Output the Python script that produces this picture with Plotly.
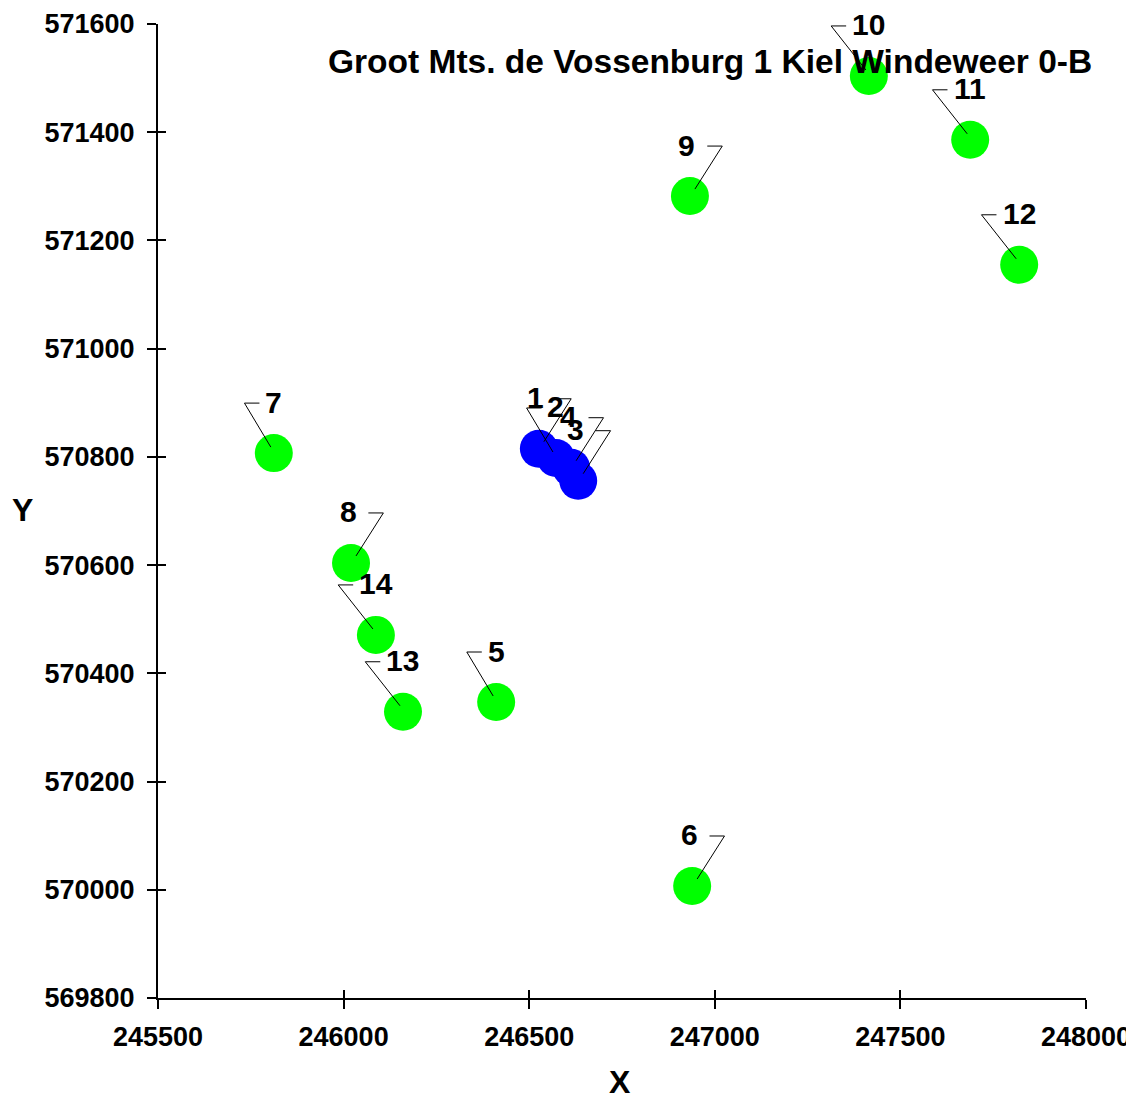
import plotly.graph_objects as go

# ---- data ----
green_labels = ["5", "6", "7", "8", "9", "10", "11", "12", "13", "14"]
green_x = [246411, 246939, 245812, 246020, 246933, 247415, 247688, 247820, 246160, 246087]
green_y = [570347, 570007, 570807, 570604, 571282, 571504, 571386, 571155, 570329, 570471]
green_side = ["L", "R", "L", "R", "R", "L", "L", "L", "L", "L"]

blue_labels = ["1", "2", "3", "4"]
blue_x = [246526, 246572, 246632, 246613]
blue_y = [570815, 570798, 570756, 570780]
blue_side = ["R", "L", "R", "R"]

title_text = "Groot Mts. de Vossenburg 1 Kiel Windeweer 0-B"
x_ticks = [245500, 246000, 246500, 247000, 247500, 248000]
y_ticks = [569800, 570000, 570200, 570400, 570600, 570800, 571000, 571200, 571400, 571600]

FONT = "Arial, Liberation Sans, sans-serif"
TICK_FS = 27
LABEL_FS = 30
TITLE_FS = 33.5
AXTITLE_FS = 32

fig = go.Figure()
fig.add_trace(go.Scatter(x=green_x, y=green_y, mode="markers",
                         marker=dict(size=38, color="#00ff00", line=dict(width=0)),
                         hoverinfo="skip", showlegend=False, cliponaxis=False))
fig.add_trace(go.Scatter(x=blue_x, y=blue_y, mode="markers",
                         marker=dict(size=38, color="#0000ff", line=dict(width=0)),
                         hoverinfo="skip", showlegend=False, cliponaxis=False))
# dummy trace for overlay axes (inside ticks)
fig.add_trace(go.Scatter(x=[None], y=[None], xaxis="x2", yaxis="y2",
                         showlegend=False, hoverinfo="skip"))

shapes = []
annotations = []
for labels, xs, ys, sides in [(green_labels, green_x, green_y, green_side),
                              (blue_labels, blue_x, blue_y, blue_side)]:
    for lab, x, y, s in zip(labels, xs, ys, sides):
        w = 16.7 * len(lab)
        if s == "L":
            ex, hx, px, py = -(w / 2) - 21, -(w / 2) - 6, -3, 6
            tshift = 0
        else:
            ex, hx, px, py = (w / 2) + 24, (w / 2) + 9, 5, 7
            tshift = -3
        path = f"M {px},{py} L {ex},50 L {hx},50"
        shapes.append(dict(type="path", path=path, xref="x", yref="y",
                           xsizemode="pixel", ysizemode="pixel",
                           xanchor=x, yanchor=y,
                           line=dict(color="black", width=1), layer="above"))
        annotations.append(dict(x=x, y=y, xref="x", yref="y", text=lab,
                                showarrow=False, xshift=tshift, yshift=51,
                                xanchor="center", yanchor="middle",
                                font=dict(family=FONT, size=LABEL_FS, color="black", weight="bold")))

annotations.append(dict(x=1, y=0.961, xref="paper", yref="paper", text=title_text,
                        showarrow=False, xanchor="right", yanchor="middle", xshift=8,
                        font=dict(family=FONT, size=TITLE_FS, color="black", weight="bold")))
annotations.append(dict(x=0.498, y=0, xref="paper", yref="paper", text="X",
                        showarrow=False, xanchor="center", yanchor="middle", yshift=-84,
                        font=dict(family=FONT, size=AXTITLE_FS, color="black", weight="bold")))
annotations.append(dict(x=0, y=0.501, xref="paper", yref="paper", text="Y",
                        showarrow=False, xanchor="center", yanchor="middle", xshift=-136,
                        font=dict(family=FONT, size=AXTITLE_FS, color="black", weight="bold")))

axis_common = dict(showgrid=False, zeroline=False, automargin=False)
fig.update_layout(
    width=1118, height=1086,
    margin=dict(l=150, r=40, t=16, b=96, pad=0, autoexpand=False),
    paper_bgcolor="white", plot_bgcolor="white",
    showlegend=False,
    xaxis=dict(range=[245500, 248000], tickvals=x_ticks, ticktext=[str(v) for v in x_ticks],
               showline=True, linecolor="black", linewidth=2,
               ticks="outside", ticklen=9, tickwidth=2, tickcolor="black",
               ticklabelstandoff=5, ticklabeloverflow="allow",
               tickfont=dict(family=FONT, size=TICK_FS, color="black", weight="bold"),
               **axis_common),
    yaxis=dict(range=[569800, 571600], tickvals=y_ticks, ticktext=[str(v) for v in y_ticks],
               showline=True, linecolor="black", linewidth=2,
               ticks="outside", ticklen=9, tickwidth=2, tickcolor="black",
               ticklabelstandoff=7, ticklabeloverflow="allow",
               tickfont=dict(family=FONT, size=TICK_FS, color="black", weight="bold"),
               **axis_common),
    xaxis2=dict(range=[245500, 248000], tickvals=x_ticks, showticklabels=False,
                overlaying="x", anchor="y", side="bottom", showline=False,
                ticks="inside", ticklen=8, tickwidth=2, tickcolor="black",
                **axis_common),
    yaxis2=dict(range=[569800, 571600], tickvals=y_ticks, showticklabels=False,
                overlaying="y", anchor="x", side="left", showline=False,
                ticks="inside", ticklen=8, tickwidth=2, tickcolor="black",
                **axis_common),
    shapes=shapes,
    annotations=annotations,
)

post = ("document.querySelectorAll('.main-svg').forEach(function(s){s.style.overflow='visible';});"
        "document.querySelectorAll('.svg-container').forEach(function(s){s.style.overflow='visible';});")
fig.write_html("out.html", post_script=post)
